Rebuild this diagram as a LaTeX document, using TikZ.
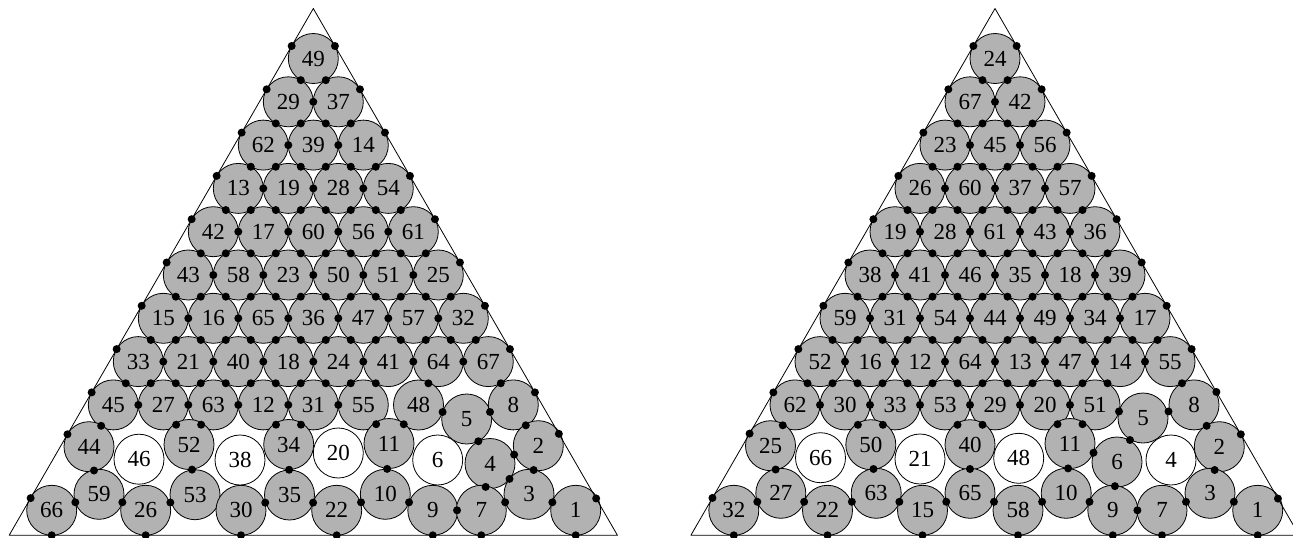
\documentclass[tikz,border=0pt]{standalone}
\usepackage{fontspec}
\setmainfont{Liberation Serif}
\usepackage{tikz}
\usetikzlibrary{calc}

\begin{document}
\begin{tikzpicture}[x=1pt,y=-1pt,line cap=round,line join=round,
  ball/.style={circle,draw,line width=0.8pt,fill=gray!60,minimum size=50pt,inner sep=0pt,font=\fontsize{23}{25}\selectfont},
  rattler/.style={ball,fill=white},
  contact/.style={fill=black}]
\useasboundingbox (0,0) rectangle (1293,538);
% triangle corners
\coordinate (L-top) at (313.3,8.5); \coordinate (L-left) at (9.15,535.3); \coordinate (L-right) at (617.45,535.3);
\coordinate (R-top) at (995,8.5); \coordinate (R-left) at (690.85,535.3); \coordinate (R-right) at (1299.15,535.3);
% left packing: hexagonal rows
\foreach \row [count=\k] in {{49},{29,37},{62,39,14},{13,19,28,54},{42,17,60,56,61},{43,58,23,50,51,25},{15,16,65,36,47,57,32},{33,21,40,18,24,41,64,67}}
  \foreach \lab [count=\j] in \row
    \node[ball,alias=L-\k-\j] (L\lab) at ({313.3+(2*\j-\k-1)*25},{58.5+(\k-1)*43.3}) {\lab};
% left packing: bottom rows
\foreach \lab/\x/\y in {45/113.3/404.9,27/163.3/404.9,63/213.3/404.9,12/263.3/404.9,31/313.3/404.9,55/363.3/404.9,48/418.5/405,5/466.7/419,8/513.3/404.9,
  44/89/446.7,52/189/444.5,34/288.7/444.5,11/389/443.5,4/490/463.5,2/538.3/445.7,
  66/51.7/510.3,59/99/494.3,26/145.7/510.3,53/195/494.7,30/241/510.3,35/289.5/495,22/336.7/510.3,10/385.3/494.3,9/432.8/510.3,7/481.3/510.3,3/529/494.3,1/575.7/510.3}
  \node[ball] (L\lab) at (\x,\y) {\lab};
\foreach \lab/\x/\y in {46/139/459.2,38/240/460,20/338.3/453,6/437.7/460}
  \node[rattler] (L\lab) at (\x,\y) {\lab};
% right packing: hexagonal rows
\foreach \row [count=\k] in {{24},{67,42},{23,45,56},{26,60,37,57},{19,28,61,43,36},{38,41,46,35,18,39},{59,31,54,44,49,34,17},{52,16,12,64,13,47,14,55}}
  \foreach \lab [count=\j] in \row
    \node[ball,alias=R-\k-\j] (R\lab) at ({995+(2*\j-\k-1)*25},{58.5+(\k-1)*43.3}) {\lab};
% right packing: bottom rows
\foreach \lab/\x/\y in {62/795/404.9,30/845/404.9,33/895/404.9,53/945/404.9,29/995/404.9,20/1045/404.9,51/1095/404.9,5/1143/418,8/1194/404.9,
  25/770.5/445.7,50/870.8/444.7,40/970/444.7,11/1070/443.5,6/1117/462,2/1219.3/446.7,
  32/733.8/510.3,27/780.8/493.3,22/827.5/510.3,63/876.2/493.3,15/922.5/510.3,65/970/493.3,58/1018/510.3,10/1066.2/493.3,9/1112.8/510.3,7/1162/510.3,3/1210/493.3,1/1257.7/510.3}
  \node[ball] (R\lab) at (\x,\y) {\lab};
\foreach \lab/\x/\y in {66/820.5/457.7,21/920/459,48/1018.7/458.3,4/1171/460}
  \node[rattler] (R\lab) at (\x,\y) {\lab};
% triangles
\draw[line width=0.8pt] (L-top) -- (L-left) -- (L-right) -- cycle;
\draw[line width=0.8pt] (R-top) -- (R-left) -- (R-right) -- cycle;
% contacts in the hexagonal part
\foreach \t in {L,R}{
  \foreach \k in {1,...,8}{
    \fill[contact] ($(\t-top)!(\t-\k-1)!(\t-left)$) circle (4);
    \fill[contact] ($(\t-top)!(\t-\k-\k)!(\t-right)$) circle (4);
    \foreach \j in {1,...,\k}{
      \pgfmathtruncatemacro{\kn}{\k+1}\pgfmathtruncatemacro{\jn}{\j+1}
      \ifnum\j<\k \fill[contact] ($(\t-\k-\j)!.5!(\t-\k-\jn)$) circle (4);\fi
      \ifnum\k<8 \fill[contact] ($(\t-\k-\j)!.5!(\t-\kn-\j)$) circle (4);
        \fill[contact] ($(\t-\k-\j)!.5!(\t-\kn-\jn)$) circle (4);\fi
    }}}
% contacts between circles, bottom rows
\foreach \t/\a/\b in {L/33/45,L/33/27,L/21/27,L/21/63,L/40/63,L/40/12,L/18/12,L/18/31,L/24/31,L/24/55,L/41/55,L/64/48,L/67/8,
  L/45/27,L/27/63,L/63/12,L/12/31,L/31/55,L/48/5,L/5/8,
  L/44/45,L/44/59,L/52/27,L/52/63,L/52/53,L/34/12,L/34/31,L/34/35,L/11/55,L/11/48,L/11/10,L/4/5,L/4/2,L/4/3,L/4/7,L/2/8,L/2/3,
  L/66/59,L/59/26,L/26/53,L/30/35,L/35/22,L/22/10,L/10/9,L/9/7,L/7/3,L/3/1,
  R/52/62,R/52/30,R/16/30,R/16/33,R/12/33,R/12/53,R/64/53,R/64/29,R/13/29,R/13/20,R/47/20,R/47/51,R/14/51,R/55/8,
  R/62/30,R/30/33,R/33/53,R/53/29,R/29/20,R/20/51,R/51/5,R/5/8,
  R/25/62,R/25/27,R/50/30,R/50/33,R/50/63,R/40/53,R/40/29,R/40/65,R/11/20,R/11/51,R/11/6,R/11/10,R/6/5,R/6/9,R/2/8,R/2/3,
  R/32/27,R/27/22,R/22/63,R/63/15,R/15/65,R/65/58,R/58/10,R/10/9,R/9/7,R/7/3,R/3/1}
  \fill[contact] ($(\t\a)!.5!(\t\b)$) circle (4);
% contacts with the sides and the base
\foreach \t/\n in {L/45,L/44,L/66,R/62,R/25,R/32}
  \fill[contact] ($(\t-top)!(\t\n)!(\t-left)$) circle (4);
\foreach \t/\n in {L/8,L/2,L/1,R/8,R/2,R/1}
  \fill[contact] ($(\t-top)!(\t\n)!(\t-right)$) circle (4);
\foreach \t/\n in {L/66,L/26,L/30,L/22,L/9,L/7,L/1,R/32,R/22,R/15,R/58,R/9,R/7,R/1}
  \fill[contact] ($(\t-left)!(\t\n)!(\t-right)$) circle (4);
\end{tikzpicture}
\end{document}
